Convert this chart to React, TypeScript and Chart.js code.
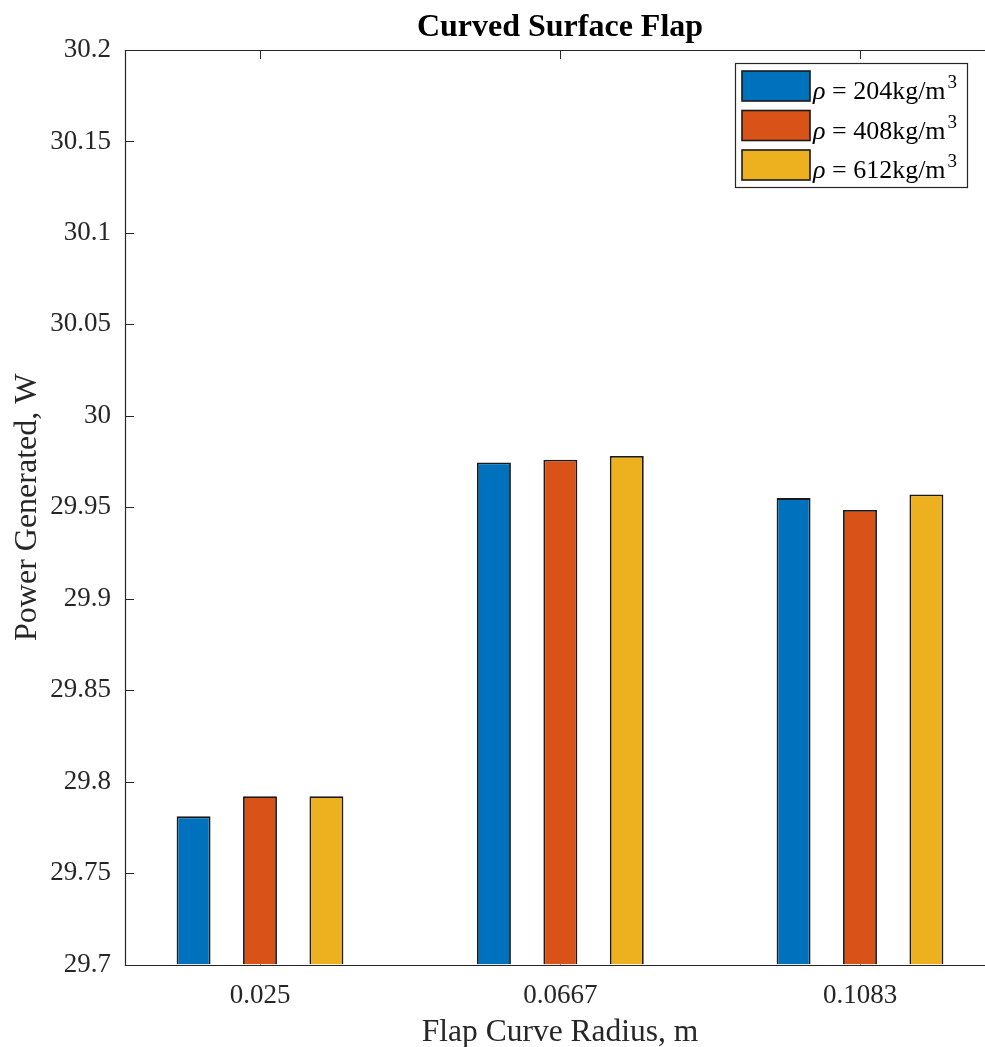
import React, { useEffect, useRef } from "react";
import { Chart, registerables } from "chart.js";

Chart.register(...registerables);

// Flap curve radius (m) and the generated power (W) for each fluid density
const radii = [0.025, 0.0667, 0.1083];
const radiusLabels = ["0.025", "0.0667", "0.1083"];
const densities = [204, 408, 612];
const power204 = [29.781, 29.9745, 29.955];
const power408 = [29.792, 29.976, 29.9485];
const power612 = [29.792, 29.978, 29.957];
const yTicks = [29.7, 29.75, 29.8, 29.85, 29.9, 29.95, 30, 30.05, 30.1, 30.15, 30.2];

const seriesValues = [power204, power408, power612];
const seriesColors = ["#0072BD", "#D95319", "#EDB120"];

// The canvas is wider than the visible frame: the axes box runs on past its right edge.
const VIEW_W = 985;
const CANVAS_W = 1010;
const CANVAS_H = 1047;
const AXIS_COLOR = "#262626";
const SERIF = "'Liberation Serif', 'Times New Roman', serif";

const radiusStep = (radii[radii.length - 1] - radii[0]) / (radii.length - 1);

// Axes lines, inward ticks, titles and legend in the MATLAB style
const matlabAxes = {
  id: "matlabAxes",
  beforeDatasetsDraw(chart: any) {
    const { ctx, chartArea: a, scales } = chart;
    const len = 9;
    ctx.save();
    ctx.strokeStyle = AXIS_COLOR;
    ctx.lineWidth = 1;
    ctx.beginPath();
    for (const v of yTicks) {
      const y = Math.round(scales.y.getPixelForValue(v)) + 0.5;
      ctx.moveTo(a.left, y);
      ctx.lineTo(a.left + len, y);
    }
    for (const v of radii) {
      const x = Math.round(scales.x.getPixelForValue(v)) + 0.5;
      ctx.moveTo(x, a.top);
      ctx.lineTo(x, a.top + len);
      ctx.moveTo(x, a.bottom);
      ctx.lineTo(x, a.bottom - len);
    }
    ctx.stroke();
    ctx.restore();
  },
  afterDatasetsDraw(chart: any) {
    const { ctx, chartArea: a } = chart;
    ctx.save();
    ctx.strokeStyle = AXIS_COLOR;
    ctx.lineWidth = 1.2;
    const l = Math.round(a.left) + 0.5;
    const t = Math.round(a.top) + 0.5;
    const b = Math.round(a.bottom) + 0.5;
    ctx.beginPath();
    ctx.moveTo(a.right, t);
    ctx.lineTo(l, t);
    ctx.lineTo(l, b);
    ctx.lineTo(a.right, b);
    ctx.stroke();

    // title
    const cx = (a.left + a.right) / 2;
    ctx.fillStyle = "#000";
    ctx.font = `bold 32px ${SERIF}`;
    ctx.textAlign = "center";
    ctx.textBaseline = "alphabetic";
    ctx.fillText("Curved Surface Flap", cx, 36);

    // axis titles
    ctx.fillStyle = AXIS_COLOR;
    ctx.font = `31.5px ${SERIF}`;
    ctx.fillText("Flap Curve Radius, m", cx, 1041);
    ctx.save();
    ctx.font = `32px ${SERIF}`;
    ctx.translate(36, (a.top + a.bottom) / 2);
    ctx.rotate(-Math.PI / 2);
    ctx.fillText("Power Generated, W", 0, 0);
    ctx.restore();

    // legend
    const lx = 735;
    const ly = 63;
    const lw = 232;
    const lh = 124;
    ctx.fillStyle = "#fff";
    ctx.fillRect(lx, ly, lw, lh);
    ctx.strokeStyle = AXIS_COLOR;
    ctx.lineWidth = 1.2;
    ctx.strokeRect(lx + 0.5, ly + 0.5, lw, lh);
    chart.data.datasets.forEach((ds: any, i: number) => {
      const sy = 71 + i * 39.5;
      ctx.fillStyle = ds.backgroundColor;
      ctx.fillRect(742, sy, 68, 30);
      ctx.strokeStyle = "#1a1a1a";
      ctx.lineWidth = 1.6;
      ctx.strokeRect(742, sy, 68, 30);
      const base = sy + 28;
      const main = (ds.label as string).split("³")[0];
      const rho = main.slice(0, 1);
      const rest = main.slice(1);
      ctx.fillStyle = "#000";
      ctx.textAlign = "left";
      ctx.font = `italic 26px ${SERIF}`;
      ctx.fillText(rho, 813, base);
      let x = 813 + ctx.measureText(rho).width;
      ctx.font = `26px ${SERIF}`;
      ctx.fillText(rest, x, base);
      x += ctx.measureText(rest).width + 2;
      ctx.font = `19px ${SERIF}`;
      ctx.fillText("3", x, base - 11);
    });
    ctx.restore();
  },
};

export default function App() {
  const canvasRef = useRef<HTMLCanvasElement | null>(null);

  useEffect(() => {
    const canvas = canvasRef.current;
    if (!canvas) return;
    const chart = new Chart(canvas, {
      type: "bar",
      data: {
        datasets: seriesValues.map((vals, i) => ({
          label: `ρ = ${densities[i]}kg/m³`,
          data: radii.map((r, j) => ({ x: r, y: vals[j] })),
          backgroundColor: seriesColors[i],
          borderColor: "#1a1a1a",
          borderWidth: 1.8,
          base: 29.7,
          categoryPercentage: 0.665,
          barPercentage: 0.511,
        })),
      },
      options: {
        animation: false,
        responsive: false,
        devicePixelRatio: 1,
        layout: { padding: { top: 50, right: 15, left: 0, bottom: 0 } },
        plugins: {
          legend: { display: false },
          title: { display: false },
          tooltip: { enabled: false },
        },
        scales: {
          x: {
            type: "linear",
            offset: false,
            min: radii[0] - 0.45 * radiusStep,
            max: radii[radii.length - 1] + 0.45 * radiusStep,
            grid: { display: false, drawTicks: false },
            border: { display: false },
            afterBuildTicks: (scale: any) => {
              scale.ticks = radii.map((v) => ({ value: v }));
            },
            afterFit: (scale: any) => {
              scale.height = CANVAS_H - 964.5;
            },
            ticks: {
              autoSkip: false,
              maxRotation: 0,
              padding: 15,
              color: AXIS_COLOR,
              font: { family: SERIF, size: 27 },
              callback: (value: any) => {
                const k = radii.findIndex((r) => Math.abs(r - Number(value)) < 1e-9);
                return k >= 0 ? radiusLabels[k] : "";
              },
            },
          },
          y: {
            type: "linear",
            min: 29.7,
            max: 30.2,
            grid: { display: false, drawTicks: false },
            border: { display: false },
            afterBuildTicks: (scale: any) => {
              scale.ticks = yTicks.map((v) => ({ value: v }));
            },
            afterFit: (scale: any) => {
              scale.width = 125;
            },
            ticks: {
              padding: 14,
              color: AXIS_COLOR,
              font: { family: SERIF, size: 27 },
              callback: (value: any) => String(Number(Number(value).toFixed(2))),
            },
          },
        },
      },
      plugins: [matlabAxes],
    });
    return () => chart.destroy();
  }, []);

  return (
    <div
      style={{
        position: "fixed",
        left: 0,
        top: 0,
        width: VIEW_W,
        height: CANVAS_H,
        overflow: "hidden",
        background: "#fff",
      }}
    >
      <canvas
        ref={canvasRef}
        width={CANVAS_W}
        height={CANVAS_H}
        style={{ width: CANVAS_W, height: CANVAS_H, display: "block" }}
      />
    </div>
  );
}
